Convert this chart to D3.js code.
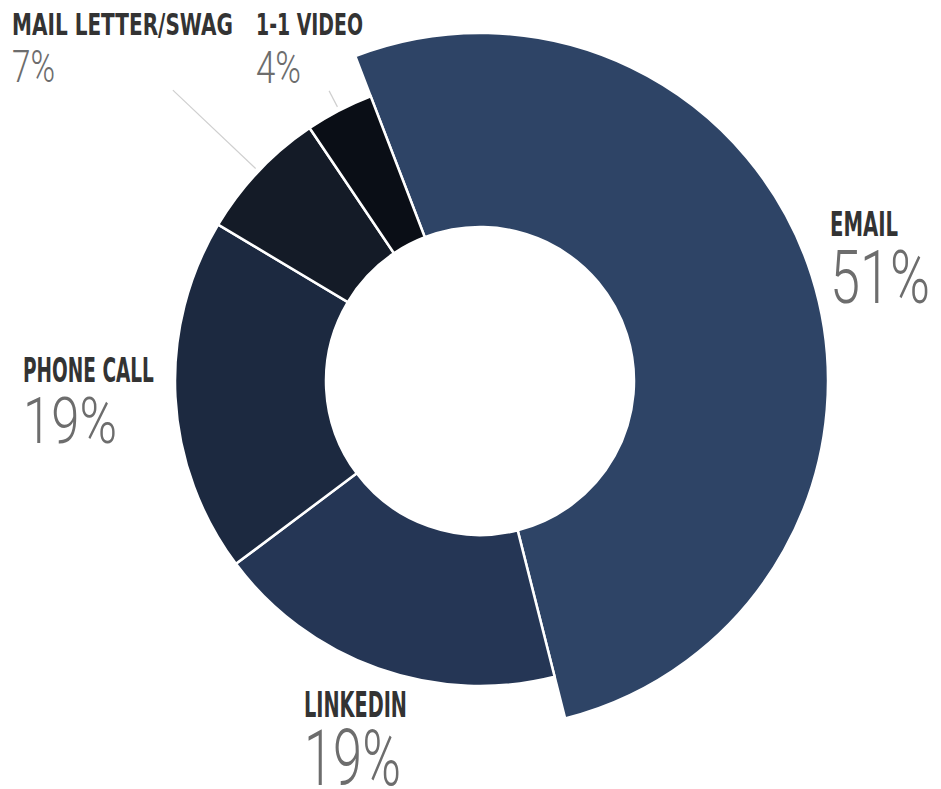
<!DOCTYPE html>
<html>
<head>
<meta charset="utf-8">
<script src="https://cdn.jsdelivr.net/npm/d3@7"></script>
<style>
  body { margin: 0; background: #fff; }
  .title { font-family: "Liberation Sans Narrow", "DejaVu Sans Condensed", "Roboto", sans-serif; font-weight: bold; fill: #333; }
  .pct { font-family: "Roboto", "Liberation Sans Narrow", sans-serif; font-weight: 300; fill: #6d6d6d; }
</style>
</head>
<body>
<div id="chart"></div>
<script>
// channel shares and their printed labels
const categories = ["EMAIL", "LINKEDIN", "PHONE CALL", "MAIL LETTER/SWAG", "1-1 VIDEO"];
const values = [51.9, 18.7, 18.8, 7.0, 3.6];
const pctLabels = ["51%", "19%", "19%", "7%", "4%"];

const colors = ["#2e4466", "#253655", "#1c2940", "#141b27", "#0a0e16"];

// label placement (x, title baseline, pct baseline, font sizes, target widths)
const labelLayout = [
  { x: 830, ty: 236, py: 303, tfs: 34, pfs: 74, tw: 68, pw: 100 },
  { x: 304, ty: 717, py: 785, tfs: 36, pfs: 77, tw: 103, pw: 97 },
  { x: 23, ty: 382, py: 443, tfs: 34, pfs: 65, tw: 131, pw: 94 },
  { x: 12, ty: 35, py: 82, tfs: 31, pfs: 44, tw: 221, pw: 43 },
  { x: 256, ty: 35, py: 83, tfs: 31, pfs: 44, tw: 107, pw: 45 }
];

const width = 941;
const height = 789;
const cx = 480, cy = 381;
const innerR = 154;
const outerR = 305;
const bigR = 348; // email slice sticks out further

const svg = d3.select("#chart")
  .append("svg")
  .attr("width", width)
  .attr("height", height);

const g = svg.append("g").attr("transform", `translate(${cx},${cy})`);

const start = -21 * Math.PI / 180;
const pie = d3.pie()
  .sort(null)
  .value(d => d)
  .startAngle(start)
  .endAngle(start + 2 * Math.PI);

const arcs = pie(values);

const arc = d3.arc()
  .innerRadius(innerR)
  .outerRadius(d => d.index === 0 ? bigR : outerR);

g.selectAll("path.slice")
  .data(arcs)
  .enter()
  .append("path")
  .attr("class", "slice")
  .attr("d", arc)
  .attr("fill", (d, i) => colors[i])
  .attr("stroke", "#fff")
  .attr("stroke-width", 2.5);

// leader lines for the two small slices
const leaderLen = [0, 0, 0, 118, 22];
arcs.forEach((d, i) => {
  if (!leaderLen[i]) return;
  const a = (d.startAngle + d.endAngle) / 2;
  const r0 = outerR + 4, r1 = outerR + leaderLen[i];
  g.append("line")
    .attr("x1", Math.sin(a) * r0).attr("y1", -Math.cos(a) * r0)
    .attr("x2", Math.sin(a) * r1).attr("y2", -Math.cos(a) * r1)
    .attr("stroke", "#cfcfcf")
    .attr("stroke-width", 1.2);
});

// squeeze a text horizontally so it spans the target width
function condensed(cls, txt, x, y, fs, w) {
  const t = svg.append("text")
    .attr("class", cls)
    .attr("font-size", fs)
    .text(txt);
  const natural = t.node().getComputedTextLength();
  t.attr("transform", `translate(${x},${y}) scale(${w / natural},1)`);
}

categories.forEach((c, i) => {
  const L = labelLayout[i];
  condensed("title", c, L.x, L.ty, L.tfs, L.tw);
  condensed("pct", pctLabels[i], L.x, L.py, L.pfs, L.pw);
});
</script>
</body>
</html>
